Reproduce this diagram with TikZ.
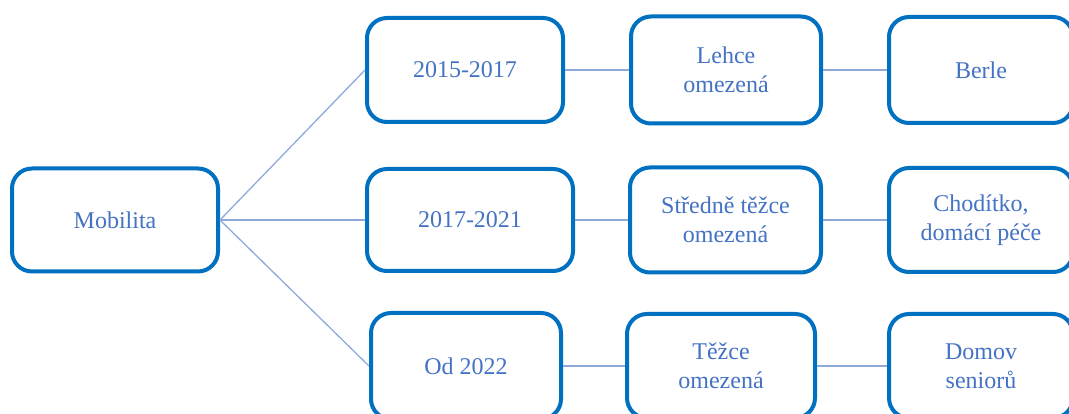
\documentclass[tikz,border=0pt]{standalone}
\usepackage{fontspec}
\setmainfont{Liberation Serif}
\definecolor{bord}{HTML}{0070C0}
\definecolor{txt}{HTML}{4472C4}
\definecolor{link}{HTML}{8EAADB}
\begin{document}
\begin{tikzpicture}[x=1pt,y=-1pt,
  box/.style={draw=bord, line width=4pt, rounded corners=20pt, fill=white,
    text=txt, align=center, inner sep=0pt,
    font=\fontsize{24}{29}\selectfont},
  link/.style={draw=link, line width=1.3pt}]
\useasboundingbox (0,0) rectangle (1069,414);

% root
\node[box, minimum width=206pt, minimum height=103pt] (mob) at (115,220) {Mobilita};

% period column
\node[box, minimum width=196pt, minimum height=104pt] (p1) at (465,70) {2015-2017};
\node[box, minimum width=206pt, minimum height=102pt] (p2) at (470,220) {2017-2021};
\node[box, minimum width=190pt, minimum height=106pt] (p3) at (466,366) {Od 2022};

% mobility level column
\node[box, minimum width=190pt, minimum height=107pt] (m1) at (726,70) {Lehce\\omezená};
\node[box, minimum width=191pt, minimum height=105pt] (m2) at (725.5,220) {Středně těžce\\omezená};
\node[box, minimum width=188pt, minimum height=104pt] (m3) at (721,366) {Těžce\\omezená};

% aid / care column
\node[box, minimum width=184pt, minimum height=106pt] (a1) at (981,70) {Berle};
\node[box, minimum width=184pt, minimum height=104pt] (a2) at (981,220) {Chodítko,\\domácí péče};
\node[box, minimum width=184pt, minimum height=104pt] (a3) at (981,366) {Domov\\seniorů};

% connectors
\draw[link] (mob.east) -- (p1.west);
\draw[link] (mob.east) -- (p2.west);
\draw[link] (mob.east) -- (p3.west);
\draw[link] (p1.east) -- (m1.west);
\draw[link] (p2.east) -- (m2.west);
\draw[link] (p3.east) -- (m3.west);
\draw[link] (m1.east) -- (a1.west);
\draw[link] (m2.east) -- (a2.west);
\draw[link] (m3.east) -- (a3.west);
\end{tikzpicture}
\end{document}
